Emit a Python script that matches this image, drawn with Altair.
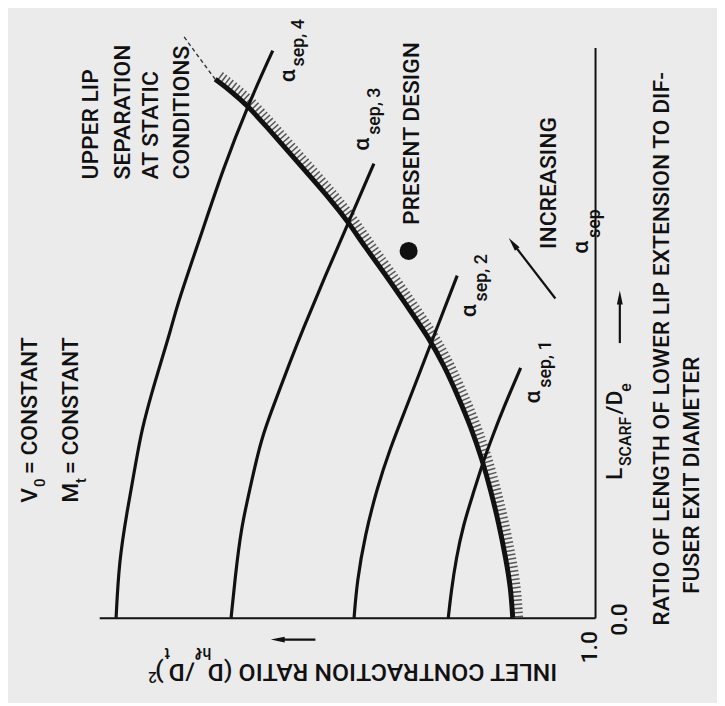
import math
import altair as alt
import pandas as pd

# ---------------- data ----------------
# x: inlet contraction ratio (D_hl/D_t)^2 ; y: L_SCARF / D_e
a4_cr = [1.966, 1.960, 1.944, 1.926, 1.914, 1.894, 1.876, 1.856, 1.840, 1.794, 1.750, 1.700, 1.650]
a4_l = [0.000, 0.114, 0.214, 0.314, 0.380, 0.454, 0.514, 0.580, 0.640, 0.774, 0.906, 1.034, 1.144]
a3_cr = [1.734, 1.726, 1.714, 1.696, 1.674, 1.646, 1.616, 1.590, 1.544, 1.496, 1.446]
a3_l = [0.000, 0.080, 0.180, 0.260, 0.360, 0.434, 0.514, 0.580, 0.690, 0.800, 0.916]
a2_cr = [1.486, 1.480, 1.464, 1.440, 1.414, 1.380, 1.350, 1.326, 1.278]
a2_l = [0.000, 0.074, 0.166, 0.260, 0.340, 0.426, 0.504, 0.566, 0.690]
a1_cr = [1.296, 1.290, 1.280, 1.266, 1.246, 1.226, 1.206, 1.186, 1.150]
a1_l = [0.000, 0.054, 0.120, 0.186, 0.250, 0.314, 0.368, 0.420, 0.504]
# upper-lip separation boundary (static conditions)
sep_cr = [1.166, 1.170, 1.180, 1.194, 1.210, 1.228, 1.250, 1.276, 1.304, 1.336, 1.380,
          1.424, 1.464, 1.496, 1.534, 1.576, 1.620, 1.662, 1.700, 1.734, 1.766]
sep_l = [0.000, 0.060, 0.120, 0.190, 0.256, 0.320, 0.384, 0.446, 0.508, 0.566, 0.630,
         0.694, 0.748, 0.796, 0.844, 0.892, 0.942, 0.990, 1.032, 1.062, 1.086]
ext_cr = [1.766, 1.800, 1.832]
ext_l = [1.086, 1.132, 1.176]
design_cr = [1.376]
design_l = [0.740]

FONT = "Roboto"
INK = "#111111"
BG = "#ebebeb"

# ---------------- tables ----------------
rows = []
for name, cs, ls in [("a4", a4_cr, a4_l), ("a3", a3_cr, a3_l), ("a2", a2_cr, a2_l), ("a1", a1_cr, a1_l)]:
    for i, (c, l) in enumerate(zip(cs, ls)):
        rows.append({"series": name, "i": i, "cr": c, "l": l})
curves = pd.DataFrame(rows)
boundary = pd.DataFrame({"i": range(len(sep_cr)), "cr": sep_cr, "l": sep_l})
extension = pd.DataFrame({"i": range(len(ext_cr)), "cr": ext_cr, "l": ext_l})
design = pd.DataFrame({"cr": design_cr, "l": design_l})

# hatch band: boundary shifted along its upper-right normal
HATCH_OFF = 0.012
hr = []
n = len(sep_cr)
for i in range(n):
    j0, j1 = max(i - 1, 0), min(i + 1, n - 1)
    du = -(sep_cr[j1] - sep_cr[j0])
    dv = sep_l[j1] - sep_l[j0]
    m = math.hypot(du, dv)
    nu, nv = dv / m, -du / m
    hr.append({"i": i, "cr": sep_cr[i] - HATCH_OFF * nu, "l": sep_l[i] + HATCH_OFF * nv})
hatch = pd.DataFrame(hr)

# annotation arrows (tail -> tip), data units
arrows = [
    (1.080, 0.644, 1.174, 0.766),   # increasing alpha_sep
    (1.564, -0.044, 1.654, -0.044),  # contraction ratio axis arrow
    (0.950, 0.554, 0.950, 0.660),    # L/D axis arrow
]
shafts, heads = [], []
for c0, l0, c1, l1 in arrows:
    du, dv = -(c1 - c0), (l1 - l0)
    m = math.hypot(du, dv)
    uh, vh = du / m, dv / m
    cc, lc = c1 + 0.014 * uh, l1 - 0.014 * vh
    ang = math.degrees(math.atan2(uh, vh)) % 360
    shafts.append({"cr": c0, "l": l0, "cr2": cc, "l2": lc})
    heads.append({"cr": cc, "l": lc, "ang": ang})
shafts = pd.DataFrame(shafts)
heads = pd.DataFrame(heads)

# text annotations: (text, cr, l, size, angle)
texts = [
    ("V", 2.126, 0.232, 23, 270), ("0", 2.110, 0.264, 15, 270), ("= CONSTANT", 2.126, 0.290, 23, 270),
    ("M", 2.042, 0.232, 23, 270), ("t", 2.026, 0.272, 15, 270), ("= CONSTANT", 2.042, 0.290, 23, 270),
    ("UPPER LIP", 2.002, 0.884, 23, 270), ("SEPARATION", 1.938, 0.884, 23, 270),
    ("AT STATIC", 1.882, 0.884, 23, 270), ("CONDITIONS", 1.818, 0.884, 23, 270),
    ("α", 1.606, 1.080, 23, 270), ("sep, 4", 1.586, 1.112, 18, 270),
    ("α", 1.456, 0.942, 23, 270), ("sep, 3", 1.434, 0.974, 18, 270),
    ("α", 1.240, 0.606, 23, 270), ("sep, 2", 1.218, 0.638, 18, 270),
    ("α", 1.110, 0.432, 23, 270), ("sep, 1", 1.088, 0.464, 18, 270),
    ("PRESENT DESIGN", 1.356, 0.792, 23, 270),
    ("INCREASING", 1.078, 0.744, 23, 270),
    ("α", 1.014, 0.734, 23, 270), ("sep", 0.990, 0.766, 18, 270),
    ("1.0", 0.996, -0.092, 23, 270), ("0.0", 0.936, -0.036, 23, 270),
    ("L", 0.946, 0.278, 23, 270), ("SCARF", 0.928, 0.306, 16, 270),
    ("/D", 0.946, 0.410, 23, 270), ("e", 0.928, 0.456, 16, 270),
    ("RATIO OF LENGTH OF LOWER LIP EXTENSION TO DIF-", 0.850, -0.016, 23, 270),
    ("FUSER EXIT DIAMETER", 0.790, 0.048, 23, 270),
    ("INLET CONTRACTION RATIO (D", 1.076, -0.094, 25, 180),
    ("hℓ", 1.774, -0.060, 16, 180), ("/D", 1.808, -0.094, 25, 180),
    ("t", 1.858, -0.060, 16, 180), (")", 1.870, -0.094, 25, 180),
    ("2", 1.884, -0.110, 15, 180),
]
text_df = pd.DataFrame(texts, columns=["text", "cr", "l", "size", "angle"])

# ---------------- scales / axes ----------------
xs = alt.Scale(domain=[1.0, 2.0], reverse=True, nice=False, zero=False)
ys = alt.Scale(domain=[0.0, 1.15], nice=False, zero=False)
ax_x = alt.Axis(orient="bottom", domain=True, domainColor=INK, domainWidth=2, ticks=False,
                labels=False, grid=False, title="")
ax_y = alt.Axis(orient="right", domain=True, domainColor=INK, domainWidth=2, ticks=False,
                labels=False, grid=False, title="")


def X(f="cr"):
    return alt.X(f"{f}:Q", scale=xs, axis=ax_x)


def Y(f="l"):
    return alt.Y(f"{f}:Q", scale=ys, axis=ax_y)


hatch_layer = alt.Chart(hatch).mark_line(
    strokeWidth=9, strokeDash=[1.5, 2.7], color="#555555", interpolate="basis"
).encode(x=X(), y=Y(), order="i:Q")

curve_layer = alt.Chart(curves).mark_line(
    strokeWidth=3.2, color=INK, interpolate="basis"
).encode(x=X(), y=Y(), detail="series:N", order="i:Q")

boundary_layer = alt.Chart(boundary).mark_line(
    strokeWidth=5, color=INK, interpolate="basis"
).encode(x=X(), y=Y(), order="i:Q")

ext_layer = alt.Chart(extension).mark_line(
    strokeWidth=1.4, color="#333333", strokeDash=[4, 3]
).encode(x=X(), y=Y(), order="i:Q")

design_layer = alt.Chart(design).mark_point(
    filled=True, size=330, color=INK, opacity=1
).encode(x=X(), y=Y())

shaft_layer = alt.Chart(shafts).mark_rule(strokeWidth=2.2, color=INK).encode(
    x=X(), y=Y(), x2="cr2:Q", y2="l2:Q")

head_layer = alt.Chart(heads).mark_point(
    shape="M0,-1L0.42,1L-0.42,1Z", filled=True, size=196, color=INK, opacity=1
).encode(x=X(), y=Y(), angle=alt.Angle("ang:Q", scale=None))

text_layer = alt.Chart(text_df).mark_text(
    align="left", baseline="alphabetic", font=FONT, fontWeight=500, color=INK
).encode(
    x=X(), y=Y(), text="text:N",
    size=alt.Size("size:Q", scale=None),
    angle=alt.Angle("angle:Q", scale=None),
)

chart = alt.layer(
    hatch_layer, curve_layer, boundary_layer, ext_layer, design_layer,
    shaft_layer, head_layer, text_layer
).properties(
    width=500, height=575,
    padding={"left": 92, "top": 37, "right": 123, "bottom": 83},
    autosize=alt.AutoSizeParams(type="none"),
    background=BG,
).configure_view(stroke=None)

chart.save("out.html", embed_options={"renderer": "svg", "actions": False})
